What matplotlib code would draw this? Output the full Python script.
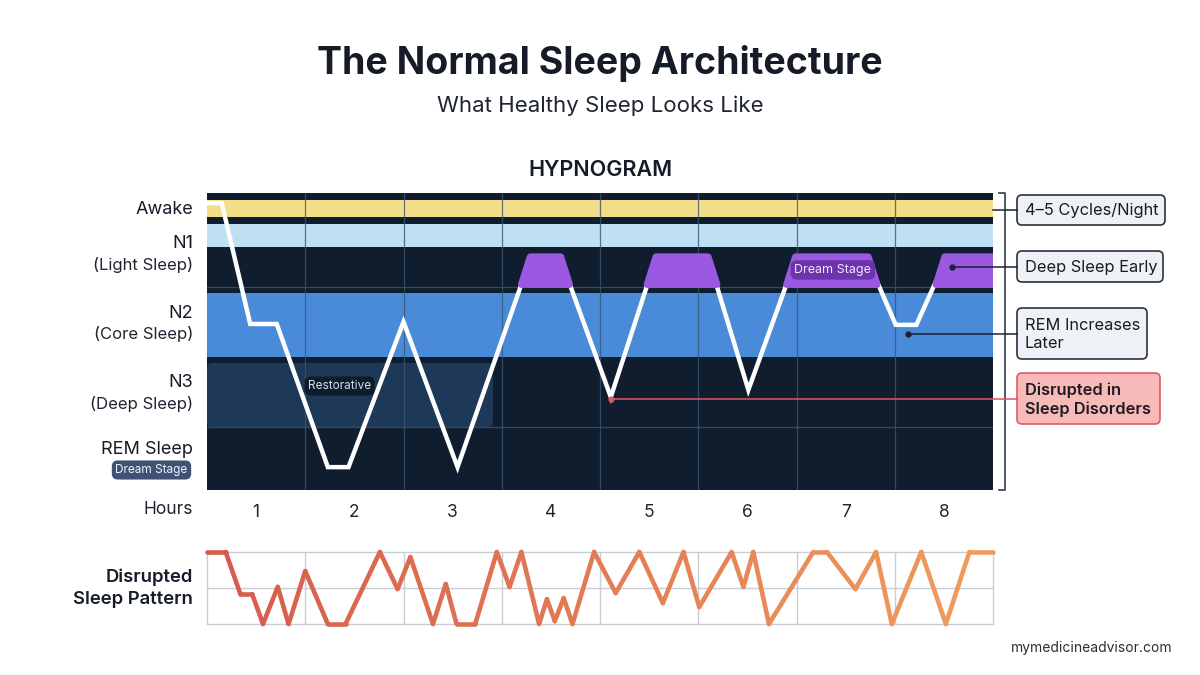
import numpy as np
import matplotlib
matplotlib.use("Agg")
import matplotlib.pyplot as plt
from matplotlib.patches import FancyBboxPatch, Polygon
from matplotlib.collections import LineCollection
from matplotlib.colors import LinearSegmentedColormap

plt.rcParams['font.family'] = ['Inter', 'DejaVu Sans']

# ---- data ----
# hypnogram: hours vs. stage depth (0 = bottom of chart, 10 = top)
hyp_hours = [0.0, 0.15, 0.44, 0.71, 1.23, 1.44, 2.0, 2.55, 3.25, 3.64, 4.11,
             4.53, 5.14, 5.51, 5.95, 6.77, 7.01, 7.22, 7.47, 8.0]
hyp_depth = [9.66, 9.66, 5.59, 5.59, 0.77, 0.77, 5.66, 0.77, 7.4, 7.4, 3.13,
             7.4, 7.4, 3.37, 7.4, 7.4, 5.56, 5.56, 7.4, 7.4]
# REM episodes (start, end) in hours
rem_start = [3.25, 4.53, 5.95, 7.47]
rem_end = [3.64, 5.14, 6.77, 8.1]

hour_labels = ['1', '2', '3', '4', '5', '6', '7', '8']

# disrupted pattern: hours vs level (0..2)
dis_hours = [0.0, 0.19, 0.34, 0.46, 0.57, 0.72, 0.83, 1.0, 1.23, 1.41, 1.76,
             1.94, 2.07, 2.3, 2.43, 2.54, 2.73, 2.95, 3.08, 3.2, 3.38, 3.46,
             3.54, 3.63, 3.72, 3.94, 4.16, 4.4, 4.64, 4.85, 5.01, 5.34, 5.46,
             5.56, 5.72, 6.17, 6.31, 6.6, 6.81, 6.97, 7.27, 7.52, 7.76, 8.0]
dis_level = [2.0, 2.0, 0.83, 0.83, 0.0, 1.03, 0.0, 1.47, 0.0, 0.0, 2.0,
             0.97, 1.86, 0.0, 1.11, 0.0, 0.0, 2.0, 1.03, 2.0, 0.0, 0.69,
             0.08, 0.72, 0.0, 2.0, 0.86, 2.0, 0.58, 2.0, 0.47, 2.0, 1.03,
             2.0, 0.0, 2.0, 2.0, 0.97, 2.0, 0.0, 2.0, 0.0, 2.0, 2.0]

stage_names = ['Awake', 'N1', 'N2', 'N3', 'REM Sleep']
stage_subs = [None, '(Light Sleep)', '(Core Sleep)', '(Deep Sleep)', None]
notes = ['4–5 Cycles/Night', 'Deep Sleep Early', 'REM Increases\nLater',
         'Disrupted in\nSleep Disorders']

W, H = 1200, 675
NAVY = '#101d2e'
GRID = '#3a5670'

fig = plt.figure(figsize=(12, 6.75), dpi=100)
fig.patch.set_facecolor('white')


def fx(px):
    return px / W


def fy(py):
    return 1 - py / H


# ---- titles ----
fig.text(0.5, fy(64), 'The Normal Sleep Architecture', ha='center', va='center',
         fontsize=27, fontweight='bold', color='#151c28')
fig.text(0.5, fy(106), 'What Healthy Sleep Looks Like', ha='center', va='center',
         fontsize=16, color='#1f2530')
fig.text(0.5, fy(170), 'HYPNOGRAM', ha='center', va='center',
         fontsize=15.5, fontweight='semibold', color='#151c28')

# ---- hypnogram ----
ax = fig.add_axes([fx(207), fy(490), 786 / W, 297 / H])
ax.set_facecolor(NAVY)
ax.set_xlim(0, 8)
ax.set_ylim(0, 10)
for s in ax.spines.values():
    s.set_visible(False)

ax.axhspan(9.19, 9.76, color='#f3dd87', zorder=1, lw=0)
ax.axhspan(8.18, 8.96, color='#bfdff3', zorder=1, lw=0)
ax.axhspan(4.48, 6.63, color='#4a8bd9', zorder=1, lw=0)
ax.add_patch(FancyBboxPatch((0, 2.12), 2.91, 2.16,
                            boxstyle='round,pad=0,rounding_size=0.05',
                            mutation_aspect=3.3, fc='#1e3957', ec='none', zorder=1))

for x in range(1, 8):
    ax.axvline(x, color=GRID, lw=0.9, alpha=0.8, zorder=2)
for y in [6.83, 2.12]:
    ax.axhline(y, color=GRID, lw=0.9, alpha=0.8, zorder=2)

ax.plot(hyp_hours, hyp_depth, color='white', lw=3.2, zorder=3,
        solid_joinstyle='miter', solid_capstyle='butt')

for s, e in zip(rem_start, rem_end):
    poly = Polygon([(s - 0.05, 6.92), (s + 0.04, 7.85), (e - 0.04, 7.85), (e + 0.05, 6.92)],
                   closed=True, fc='#9b58e0', ec='#9b58e0', lw=5, joinstyle='round', zorder=4)
    ax.add_patch(poly)

ax.text(6.37, 7.41, 'Dream Stage', ha='center', va='center', fontsize=9,
        color='#efe6ff', zorder=6,
        bbox=dict(boxstyle='round,pad=0.3,rounding_size=0.5', fc='#6b34aa', ec='none'))
ax.text(1.35, 3.5, 'Restorative', ha='center', va='center', fontsize=8.5,
        color='#d6dde6', zorder=6,
        bbox=dict(boxstyle='round,pad=0.3,rounding_size=0.5', fc='#0f1c2c', ec='none'))

ax.set_xticks([i + 0.5 for i in range(8)])
ax.set_xticklabels(hour_labels, fontsize=12.5, color='#1f2530')
ax.tick_params(axis='x', length=0, pad=10)
ax.set_yticks([])
fig.text(fx(168), fy(509), 'Hours', ha='center', va='center', fontsize=12.5, color='#1f2530')

# stage labels on the left
name_y = [209, 243, 313, 383, 450]
sub_y = [None, 265, 334, 404, None]
for n, sub, ny, sy in zip(stage_names, stage_subs, name_y, sub_y):
    fig.text(fx(193), fy(ny), n, ha='right', va='center', fontsize=13, color='#151c28')
    if sub:
        fig.text(fx(193), fy(sy), sub, ha='right', va='center', fontsize=12, color='#1f2530')
fig.text(fx(151.5), fy(470), 'Dream Stage', ha='center', va='center', fontsize=8.5,
         color='#f0f3f8',
         bbox=dict(boxstyle='round,pad=0.3,rounding_size=0.5', fc='#3d5275', ec='none'))

# ---- overlay for brackets / notes ----
ov = fig.add_axes([0, 0, 1, 1], zorder=10)
ov.set_xlim(0, W)
ov.set_ylim(H, 0)
ov.axis('off')
ov.patch.set_visible(False)

ov.plot([999, 1005, 1005, 999], [193, 193, 490, 490], color='#333a44', lw=1.2)

box_y = [(195, 225), (251, 282), (308, 359), (373, 424)]
box_r = [1165, 1163, 1147, 1160]
dots = [None, (952, 266), (908, 333), (611, 399)]
for i, (t, (y0, y1), xr, d) in enumerate(zip(notes, box_y, box_r, dots)):
    red = i == 3
    lc = '#e05565' if red else '#1b2230'
    yc = (y0 + y1) / 2
    if d is None:
        ov.plot([993, 1017], [yc, yc], color=lc, lw=1.1)
    else:
        ov.plot([d[0], 1017], [yc, yc], color=lc, lw=1.1)
        ov.plot(d[0], yc, 'o', ms=3.5, color=lc)
    ov.add_patch(FancyBboxPatch((1017, y0), xr - 1017, y1 - y0,
                                boxstyle='round,pad=0,rounding_size=5',
                                fc='#f8b9b9' if red else '#eef1f5',
                                ec='#e05a68' if red else '#2b313b', lw=1.2))
    ov.text(1025, yc + 1, t, ha='left', va='center', fontsize=11.8,
            fontweight='semibold' if red else 'normal',
            color='#1b1b22', linespacing=1.25)

# ---- disrupted pattern ----
ax2 = fig.add_axes([fx(207), fy(624), 786 / W, 72 / H])
ax2.set_xlim(0, 8)
ax2.set_ylim(0, 2)
for s in ax2.spines.values():
    s.set_color('#c9ced5')
    s.set_linewidth(1)
for x in range(1, 8):
    ax2.axvline(x, color='#c9ced5', lw=1, zorder=1)
ax2.axhline(1, color='#c9ced5', lw=1, zorder=1)
ax2.set_xticks([])
ax2.set_yticks([])

pts = np.column_stack([dis_hours, dis_level])
segs = np.stack([pts[:-1], pts[1:]], axis=1)
cmap = LinearSegmentedColormap.from_list('dis', ['#d65a4c', '#ef9d5e'])
mids = (pts[:-1, 0] + pts[1:, 0]) / 2 / 8
lc = LineCollection(segs, colors=cmap(mids), lw=3.3, capstyle='round',
                    joinstyle='round', zorder=3, clip_on=False)
ax2.add_collection(lc)

fig.text(fx(193), fy(577), 'Disrupted', ha='right', va='center', fontsize=13.3,
         fontweight='semibold', color='#151c28')
fig.text(fx(193), fy(599), 'Sleep Pattern', ha='right', va='center', fontsize=13.3,
         fontweight='semibold', color='#151c28')

fig.text(fx(1172), fy(648), 'mymedicineadvisor.com', ha='right', va='center',
         fontsize=10, color='#2a2f38')

fig.savefig('out.png', dpi=100, facecolor='white')
